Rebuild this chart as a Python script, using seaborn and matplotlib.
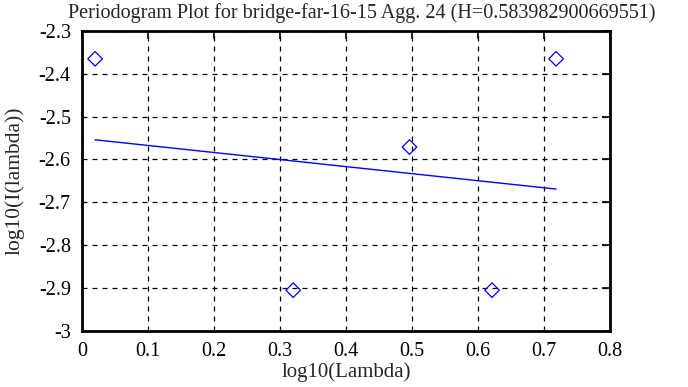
import matplotlib
matplotlib.use("Agg")
import matplotlib.pyplot as plt
import seaborn as sns
import pandas as pd

# periodogram points (log10 lambda vs log10 I(lambda))
log_lambda = [0.020, 0.320, 0.496, 0.621, 0.718]
log_power = [-2.365, -2.905, -2.571, -2.905, -2.365]

# fitted line end points
fit_x = [0.020, 0.718]
fit_y = [-2.554, -2.669]

title = "Periodogram Plot for bridge-far-16-15 Agg. 24 (H=0.583982900669551)"

sns.set_style("white")
plt.rcParams["font.family"] = ["Liberation Serif", "DejaVu Serif"]

pts = pd.DataFrame({"x": log_lambda, "y": log_power})
fit = pd.DataFrame({"x": fit_x, "y": fit_y})

fig = plt.figure(figsize=(6.88, 3.87), dpi=100)
ax = fig.add_axes([0.119, 0.145, 0.768, 0.775])

sns.lineplot(data=fit, x="x", y="y", ax=ax, color="#0000ff", linewidth=1)
sns.scatterplot(data=pts, x="x", y="y", ax=ax, marker="D", s=55,
                facecolor="none", edgecolor="#0000ff", linewidth=0.9, zorder=5)

ax.set_xlim(0, 0.8)
ax.set_ylim(-3, -2.3)
ax.set_xticks([0, 0.1, 0.2, 0.3, 0.4, 0.5, 0.6, 0.7, 0.8])
ax.set_xticklabels(["0", "0.1", "0.2", "0.3", "0.4", "0.5", "0.6", "0.7", "0.8"])
ax.set_yticks([-3, -2.9, -2.8, -2.7, -2.6, -2.5, -2.4, -2.3])
ax.set_yticklabels(["-3", "-2.9", "-2.8", "-2.7", "-2.6", "-2.5", "-2.4", "-2.3"])
ax.grid(True, color="black", linestyle=(0, (4, 4)), linewidth=0.9)
ax.tick_params(direction="in", length=6, width=1.2, top=True, right=True,
               labelsize=14.5, colors="black", pad=8)
for s in ax.spines.values():
    s.set_linewidth(2)
    s.set_color("black")

ax.set_xlabel("log10(Lambda)", fontsize=15, labelpad=1)
ax.set_ylabel("log10(I(lambda))", fontsize=15.5, labelpad=10)
ax.set_title(title, fontsize=14.5, x=0.53, pad=9)

fig.savefig("out.png", dpi=100)
